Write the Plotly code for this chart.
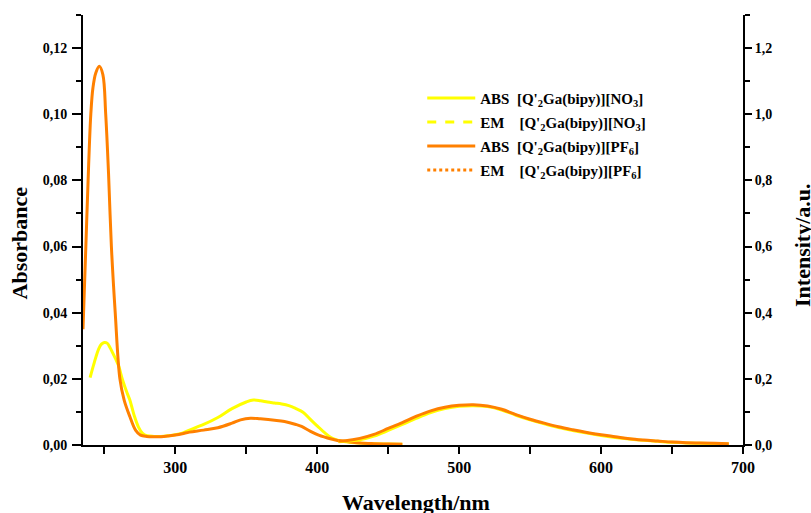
import plotly.graph_objects as go

# ---- data ----
abs_no3_wl = [240, 243, 246, 248, 250, 252, 254, 256, 258, 260, 263, 266, 268, 271, 274, 277, 280, 285, 290, 295,
              300, 305, 310, 320, 330, 340, 350, 355, 360, 365, 370, 375, 380, 385, 390, 395, 400, 405, 410, 415,
              420, 430, 440, 450, 460]
abs_no3 = [0.0204, 0.025, 0.029, 0.0305, 0.031, 0.0308, 0.0295, 0.0278, 0.026, 0.024, 0.0195, 0.0158, 0.0136, 0.009,
           0.0055, 0.0035, 0.0028, 0.0026, 0.0026, 0.0028, 0.0031, 0.0036, 0.0045, 0.0062, 0.0083, 0.011, 0.013, 0.0136,
           0.0134, 0.013, 0.0127, 0.0124, 0.0119, 0.011, 0.0099, 0.0078, 0.0058, 0.0038, 0.0022, 0.0014, 0.0010,
           0.0006, 0.0004, 0.0003, 0.0002]

abs_pf6_wl = [235, 237, 239, 240.5, 242, 244, 246.5, 249, 251, 253, 255, 257.7, 261, 264, 268, 272, 275.5, 280, 285,
              290, 295, 300, 305, 310, 320, 330, 340, 346, 353, 360, 370, 377, 385, 389, 395, 401, 410, 415, 422,
              430, 440, 450, 460]
abs_pf6 = [0.035, 0.060, 0.085, 0.100, 0.108, 0.1125, 0.1145, 0.112, 0.100, 0.082, 0.060, 0.040, 0.020, 0.0136,
           0.0086, 0.0045, 0.0030, 0.0026, 0.0025, 0.0025, 0.0027, 0.0030, 0.0034, 0.0039, 0.0045, 0.0052, 0.0066,
           0.0076, 0.0081, 0.0079, 0.0075, 0.0071, 0.0062, 0.0056, 0.0042, 0.0030, 0.0018, 0.0013, 0.0010,
           0.0006, 0.0004, 0.0003, 0.0002]

em_wl = [415, 420, 430, 440, 450, 460, 470, 480, 490, 500, 510, 520, 530, 540, 550, 560, 570, 580, 590, 600,
         610, 620, 630, 640, 650, 660, 670, 680, 690]
em_no3 = [0.010, 0.011, 0.016, 0.027, 0.044, 0.062, 0.081, 0.098, 0.110, 0.117, 0.119, 0.116, 0.106, 0.090, 0.076,
          0.064, 0.053, 0.044, 0.036, 0.029, 0.023, 0.018, 0.014, 0.011, 0.008, 0.006, 0.005, 0.004, 0.003]
em_pf6 = [0.012, 0.013, 0.020, 0.032, 0.050, 0.068, 0.087, 0.103, 0.114, 0.120, 0.122, 0.118, 0.108, 0.092, 0.078,
          0.066, 0.055, 0.046, 0.038, 0.031, 0.025, 0.019, 0.015, 0.012, 0.009, 0.007, 0.006, 0.005, 0.004]

names = ["ABS  [Q'<sub>2</sub>Ga(bipy)][NO<sub>3</sub>]",
         "EM    [Q'<sub>2</sub>Ga(bipy)][NO<sub>3</sub>]",
         "ABS  [Q'<sub>2</sub>Ga(bipy)][PF<sub>6</sub>]",
         "EM    [Q'<sub>2</sub>Ga(bipy)][PF<sub>6</sub>]"]

YEL = "#FFFF00"
ORA = "#FF8000"
FONT = "Liberation Serif"

fig = go.Figure()
# drawn curves
fig.add_trace(go.Scatter(x=abs_no3_wl, y=abs_no3, mode="lines", line=dict(color=YEL, width=3, shape="spline"),
                         showlegend=False, yaxis="y"))
fig.add_trace(go.Scatter(x=em_wl, y=em_no3, mode="lines", line=dict(color=YEL, width=3, shape="spline"),
                         showlegend=False, yaxis="y2"))
fig.add_trace(go.Scatter(x=abs_pf6_wl, y=abs_pf6, mode="lines", line=dict(color=ORA, width=3, shape="spline"),
                         showlegend=False, yaxis="y"))
fig.add_trace(go.Scatter(x=em_wl, y=em_pf6, mode="lines", line=dict(color=ORA, width=3, shape="spline"),
                         showlegend=False, yaxis="y2"))
# legend entries
styles = [(YEL, "solid"), (YEL, "dash"), (ORA, "solid"), (ORA, "dot")]
for i, (nm, (c, d)) in enumerate(zip(names, styles)):
    fig.add_trace(go.Scatter(x=[None], y=[None], mode="lines", name=nm, legendgroup=f"g{i}",
                             line=dict(color=c, width=3, dash=d)))


def axis_common(size):
    return dict(showline=True, linecolor="black", linewidth=2, ticks="outside", tickwidth=2,
                tickcolor="black", showgrid=False, zeroline=False,
                tickfont=dict(family=FONT, size=size, color="black", weight="bold"))


title_font = dict(family=FONT, size=22, color="black", weight="bold")

fig.update_layout(
    width=811, height=513,
    margin=dict(l=83, r=68, t=15, b=68),
    plot_bgcolor="white", paper_bgcolor="white",
    separators=",.",
    xaxis=dict(range=[235, 700], tick0=300, dtick=100, ticklen=7,
               minor=dict(dtick=50, tick0=250, ticklen=7, ticks="outside", tickwidth=2, tickcolor="black"),
               **axis_common(16)),
    yaxis=dict(range=[0, 0.13], dtick=0.02, tickformat=".2f", ticklen=9, ticklabelstandoff=2,
               minor=dict(dtick=0.01, ticklen=5, ticks="outside", tickwidth=2, tickcolor="black"),
               **axis_common(14)),
    yaxis2=dict(range=[0, 1.3], dtick=0.2, tickformat=".1f", ticklen=7, overlaying="y", side="right",
                minor=dict(dtick=0.1, ticklen=5, ticks="outside", tickwidth=2, tickcolor="black"),
                **axis_common(14)),
    legend=dict(x=0.514, y=0.845, xanchor="left", yanchor="top", bgcolor="rgba(0,0,0,0)", itemwidth=48,
                font=dict(family=FONT, size=15, color="black", weight="bold"), tracegroupgap=1.5),
    annotations=[
        dict(text="Absorbance", xref="paper", yref="paper", x=-0.0962, y=0.47, xanchor="center", yanchor="middle",
             textangle=-90, showarrow=False, font=title_font),
        dict(text="Intensity/a.u.", xref="paper", yref="paper", x=1.091, y=0.463, xanchor="center",
             yanchor="middle", textangle=-90, showarrow=False, font=title_font),
        dict(text="Wavelength/nm", xref="paper", yref="paper", x=0.504, y=-0.133, xanchor="center",
             yanchor="middle", showarrow=False, font=title_font),
    ],
)

fig.write_html("out.html")
